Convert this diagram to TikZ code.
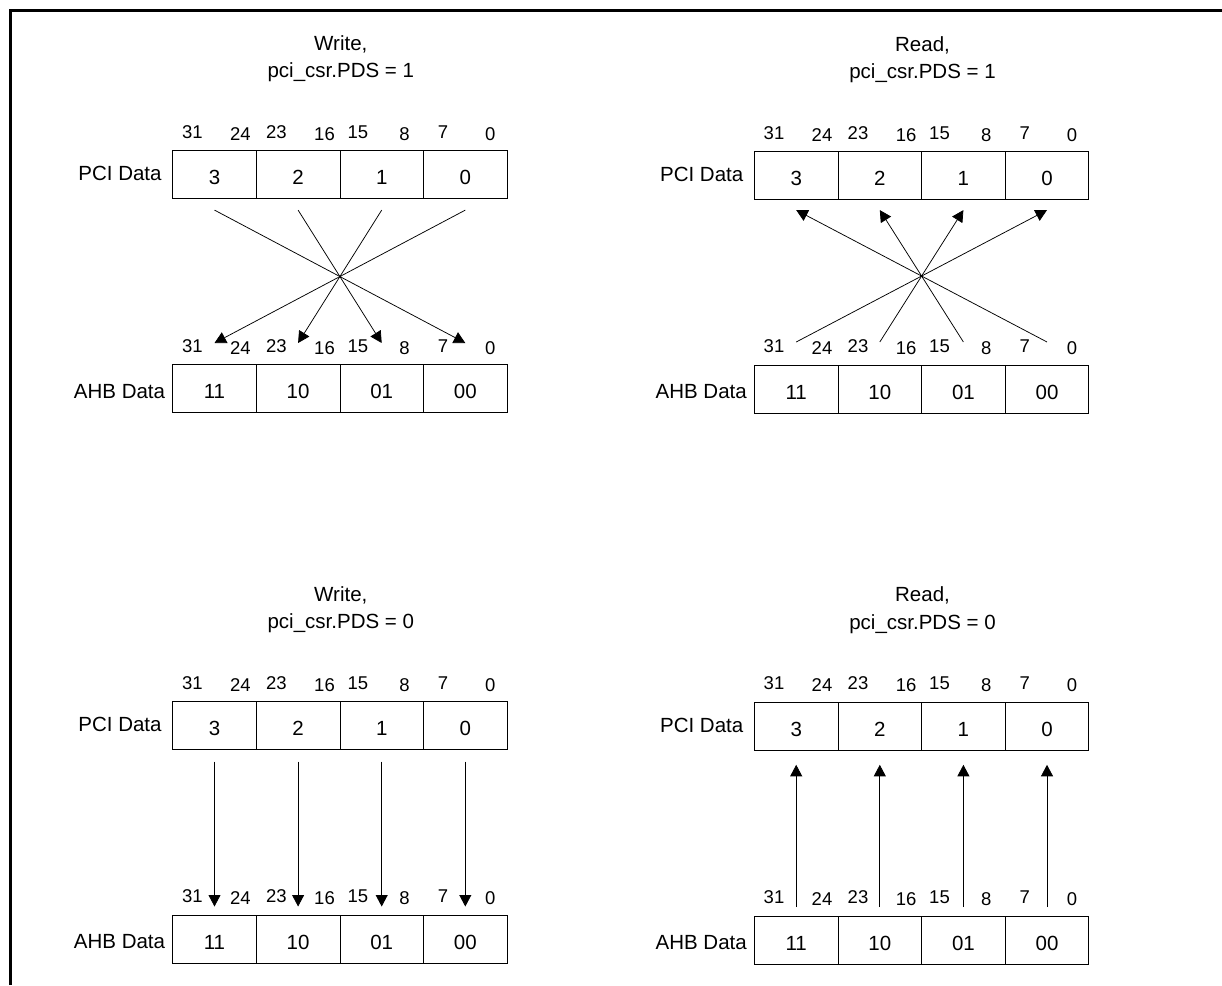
\documentclass[tikz,border=0pt]{standalone}
\usepackage{fontspec}
\setmainfont{Liberation Sans}
\usetikzlibrary{arrows.meta}
\tikzset{
  cell/.style={draw=black, line width=0.8pt, minimum width=83.6pt, minimum height=48.3pt,
    inner sep=0pt, text height=20pt, text depth=0pt, font=\fontsize{20.5}{24}\selectfont},
  rowlab/.style={anchor=base east, inner sep=0pt, font=\fontsize{20.5}{24}\selectfont},
  bitlab/.style={anchor=base, inner sep=0pt, font=\fontsize{18.5}{22}\selectfont},
  ttl/.style={anchor=base, inner sep=0pt, font=\fontsize{20.5}{24}\selectfont},
  conn/.style={line width=0.75pt, -{Triangle[length=11.5pt,width=12pt]}},
  framel/.style={line width=2.6pt}
}
% #1 prefix, #2 x0, #3 PCI top, #4 AHB top, #5 title 1, #6 title 2
\newcommand\regpanel[6]{%
  \foreach \v [count=\i from 0] in {3,2,1,0}
    {\node[cell, anchor=north west] (#1p\i) at ({#2+\i*83.6},#3) {\v};}
  \foreach \v [count=\i from 0] in {11,10,01,00}
    {\node[cell, anchor=north west] (#1a\i) at ({#2+\i*83.6},#4) {\v};}
  \node[rowlab] (#1pl) at ({#2-10.5},{#3+30.5}) {PCI Data};
  \node[rowlab] (#1al) at ({#2-7},{#4+34}) {AHB Data};
  \foreach \t/\dx/\dy [count=\k] in {31/20/-12,24/68/-10,23/104/-12,16/152.2/-10,15/185.5/-12,8/232.2/-10,7/270.7/-12,0/318/-10}
    {\node[bitlab] (#1t\k) at ({#2+\dx},{#3+\dy}) {\t};
     \node[bitlab] (#1b\k) at ({#2+\dx},{#4+\dy}) {\t};}
  \node[ttl] (#1h1) at ({#2+168.5},{#3-99.8}) {#5};
  \node[ttl] (#1h2) at ({#2+168.5},{#3-72.5}) {#6};
}
\begin{document}
\begin{tikzpicture}[x=1pt,y=-1pt]
\useasboundingbox (0,0) rectangle (1222,985);
\draw[framel] (10.5,985) -- (10.5,10.5) -- (1222,10.5);

\regpanel{A}{172.3}{150}{364}{Write,}{pci\_csr.PDS = 1}
\regpanel{B}{754}{151}{364.5}{Read,}{pci\_csr.PDS = 1}
\regpanel{C}{172.3}{701}{914.5}{Write,}{pci\_csr.PDS = 0}
\regpanel{D}{754}{701.7}{915.7}{Read,}{pci\_csr.PDS = 0}

\foreach \i/\j in {0/3,1/2,2/1,3/0}{
  \draw[conn] ([yshift=-11pt]Ap\i.south) -- ([yshift=21pt]Aa\j.north);
  \draw[conn] ([yshift=22.5pt]Ba\j.north) -- ([yshift=-10pt]Bp\i.south);
  \draw[conn] ([yshift=-11.5pt]Cp\i.south) -- ([yshift=8pt]Ca\i.north);
  \draw[conn] ([yshift=8.5pt]Da\i.north) -- ([yshift=-14pt]Dp\i.south);
}
\end{tikzpicture}
\end{document}
